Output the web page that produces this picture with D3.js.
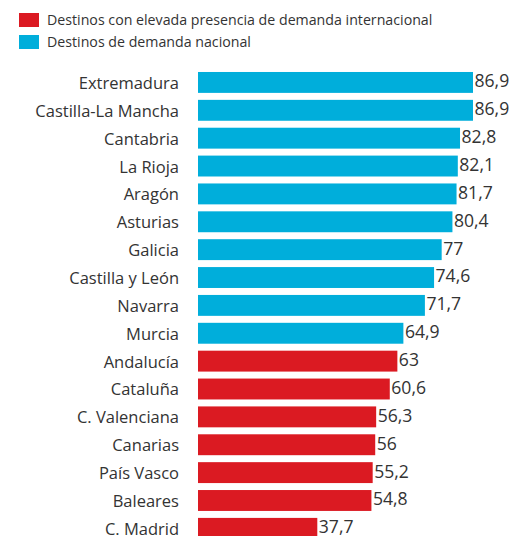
<!DOCTYPE html>
<html>
<head>
<meta charset="utf-8">
<script src="https://cdn.jsdelivr.net/npm/d3@7"></script>
<style>
  body { margin: 0; background: #fff; }
  text { font-family: "Open Sans", sans-serif; fill: #333; }
</style>
</head>
<body>
<div id="vis"></div>
<script>
const width = 516
const height = 536

// data
const regions = ["Extremadura", "Castilla-La Mancha", "Cantabria", "La Rioja", "Aragón", "Asturias",
    "Galicia", "Castilla y León", "Navarra", "Murcia", "Andalucía", "Cataluña", "C. Valenciana",
    "Canarias", "País Vasco", "Baleares", "C. Madrid"]
const values = [86.9, 86.9, 82.8, 82.1, 81.7, 80.4, 77, 74.6, 71.7, 64.9, 63, 60.6, 56.3, 56, 55.2, 54.8, 37.7]
const groups = ["nac", "nac", "nac", "nac", "nac", "nac", "nac", "nac", "nac", "nac",
    "int", "int", "int", "int", "int", "int", "int"]
const legendKeys = ["int", "nac"]
const legendLabels = ["Destinos con elevada presencia de demanda internacional", "Destinos de demanda nacional"]

const data = regions.map((r, i) => ({ region: r, value: values[i], group: groups[i] }))

var color = d3.scaleOrdinal().domain(legendKeys).range(["#db1a22", "#00aedb"])

var svg = d3.select("#vis")
    .append("svg")
    .attr("width", width)
    .attr("height", height)

var x = d3.scaleLinear().domain([0, 86.9]).range([198, 473])
var y = d3.scaleBand().domain(regions).range([68.5, 68.5 + 27.87 * regions.length]).paddingInner(0.25).paddingOuter(0.125)

svg.selectAll("rect.bar")
    .data(data)
    .join("rect")
    .attr("class", "bar")
    .attr("x", x(0))
    .attr("y", d => y(d.region))
    .attr("width", d => x(d.value) - x(0))
    .attr("height", y.bandwidth())
    .attr("fill", d => color(d.group))

svg.selectAll("text.name")
    .data(data)
    .join("text")
    .attr("class", "name")
    .attr("x", 179)
    .attr("y", d => y(d.region) + y.bandwidth() / 2 + 0.7)
    .attr("dy", "0.35em")
    .attr("text-anchor", "end")
    .attr("font-size", "16.5px")
    .text(d => d.region)

const fmt = v => String(v).replace(".", ",")

svg.selectAll("text.val")
    .data(data)
    .join("text")
    .attr("class", "val")
    .attr("x", d => x(d.value) + 1.5)
    .attr("y", d => y(d.region) + y.bandwidth() / 2 - 1.2)
    .attr("dy", "0.35em")
    .attr("font-size", "17.6px")
    .text(d => fmt(d.value))

// legend
const legend = svg.selectAll("g.legend")
    .data(legendKeys)
    .join("g")
    .attr("class", "legend")
    .attr("transform", (d, i) => `translate(19, ${13 + i * 22})`)

legend.append("rect")
    .attr("width", 20)
    .attr("height", 14)
    .attr("fill", d => color(d))

legend.append("text")
    .attr("x", 28)
    .attr("y", 7)
    .attr("dy", "0.35em")
    .attr("font-size", "14.2px")
    .text((d, i) => legendLabels[i])
</script>
</body>
</html>
